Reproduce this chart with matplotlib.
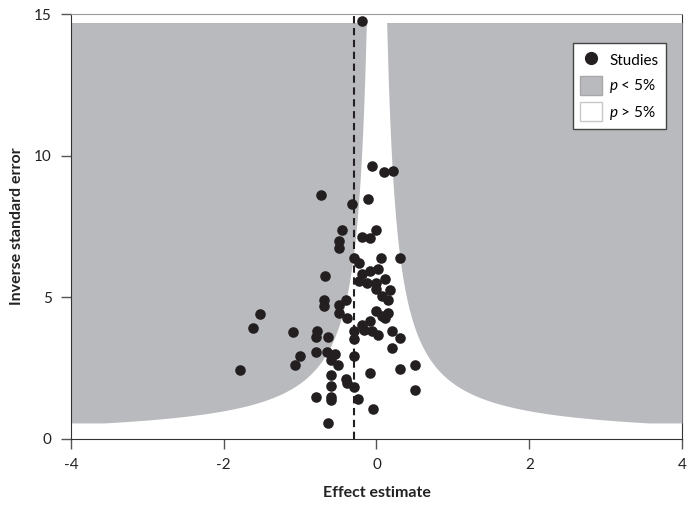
import numpy as np
import matplotlib
matplotlib.use("Agg")
from matplotlib import pyplot as plt
from matplotlib.lines import Line2D
from matplotlib.patches import Patch

plt.rcParams['font.family'] = ['Lato', 'DejaVu Sans']
plt.rcParams['mathtext.fontset'] = 'custom'
plt.rcParams['mathtext.it'] = 'Lato:italic'
plt.rcParams['mathtext.rm'] = 'Lato'

# Estudios: efecto estimado y 1/SE
efecto = [-0.19, -0.06, 0.10, 0.22, -0.73, -0.32, -0.11, -0.45, 0.00, -0.49,
          -0.49, -0.19, -0.09, -0.29, -0.23, 0.06, 0.31, -0.68, -0.19, -0.09,
          0.02, -0.23, -0.13, 0.00, 0.11, 0.00, 0.18, 0.07, 0.15, -0.69,
          -0.69, -0.40, -0.49, -0.49, -0.39, 0.00, 0.07, 0.15, 0.11, -0.19,
          -0.09, -0.17, -0.06, 0.02, 0.20, 0.31, -0.29, -0.29, -0.78, -0.64,
          -1.52, -1.62, -1.79, -1.09, -0.79, -1.00, -1.07, -0.79, -0.65, -0.54,
          -0.59, -0.50, -0.59, -0.40, -0.39, -0.30, -0.24, -0.59, -0.59, -0.59,
          -0.79, -0.63, -0.29, 0.20, -0.09, 0.31, 0.50, 0.50, -0.05]
inv_se = [14.75, 9.64, 9.43, 9.45, 8.61, 8.29, 8.45, 7.37, 7.36, 6.98,
          6.72, 7.11, 7.09, 6.39, 6.19, 6.38, 6.37, 5.75, 5.80, 5.92,
          6.00, 5.56, 5.48, 5.50, 5.62, 5.29, 5.24, 5.03, 4.89, 4.91,
          4.67, 4.91, 4.73, 4.44, 4.26, 4.50, 4.34, 4.44, 4.26, 4.02,
          4.14, 3.85, 3.79, 3.67, 3.79, 3.55, 3.79, 3.50, 3.79, 3.58,
          4.41, 3.91, 2.41, 3.75, 3.59, 2.90, 2.58, 3.04, 3.04, 3.00,
          2.78, 2.61, 2.23, 2.10, 1.96, 1.82, 1.40, 1.84, 1.48, 1.37,
          1.48, 0.54, 2.90, 3.20, 2.31, 2.45, 2.61, 1.70, 1.04]

efecto_combinado = -0.3
z_crit = 1.96
y_min, y_max = 0.55, 14.7

gris = '#b9babd'
negro = '#231f20'

fig = plt.figure(figsize=(6.94, 5.08), dpi=100)
ax = fig.add_axes([0.1023, 0.1368, 0.8804, 0.8356])

# Region de significancia (p < 5%)
y = np.linspace(y_min, y_max, 400)
borde = np.minimum(z_crit / y, 4)
ax.fill_betweenx(y, -4, -borde, color=gris, lw=0, zorder=1)
ax.fill_betweenx(y, borde, 4, color=gris, lw=0, zorder=1)

ax.axvline(efecto_combinado, color=negro, lw=1.5, ls=(0, (3.5, 2.2)), zorder=2)
ax.scatter(efecto, inv_se, s=58, color=negro, lw=0, zorder=3)

ax.set_xlim(-4, 4)
ax.set_ylim(0, 15)
ax.set_xticks([-4, -2, 0, 2, 4])
ax.set_xticklabels(['-4', '-2', '0', '2', '4'])
ax.set_yticks([0, 5, 10, 15])

ax.spines['top'].set_color('#9a9a9a')
ax.spines['right'].set_color('#333333')
ax.spines['right'].set_zorder(0.5)
ax.spines['left'].set_color('#333333')
ax.spines['bottom'].set_color('#333333')
ax.tick_params(length=7, width=1, color='#555555', labelsize=11,
               labelcolor='#222222', pad=7)

ax.set_xlabel('Effect estimate', fontsize=11.5, fontweight='bold', labelpad=10,
              color='#222222')
ax.set_ylabel('Inverse standard error', fontsize=11.5, fontweight='bold',
              labelpad=7, color='#222222')

handles = [Line2D([], [], marker='o', ls='', color=negro, markersize=8.5),
           Patch(facecolor=gris, edgecolor='#a8a8a8'),
           Patch(facecolor='white', edgecolor='#c8c8c8')]
etiquetas = ['Studies', '$p$ < 5%', '$p$ > 5%']
leg = ax.legend(handles, etiquetas, loc='upper right',
                bbox_to_anchor=(0.974, 0.932), borderaxespad=0,
                fontsize=11, fancybox=False, framealpha=1,
                edgecolor='#444444', handlelength=1.4, handleheight=1.5,
                labelspacing=0.45, borderpad=0.5, handletextpad=0.5)
leg.get_frame().set_linewidth(1)

fig.savefig('out.png', dpi=100)
